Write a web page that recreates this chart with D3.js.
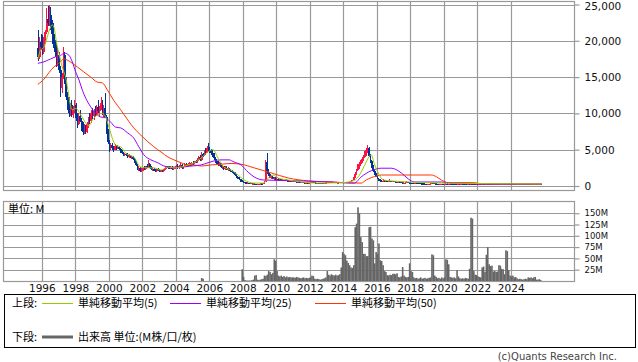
<!DOCTYPE html>
<html><head><meta charset="utf-8">
<script src="https://cdn.jsdelivr.net/npm/d3@7/dist/d3.min.js"></script>
<style>body{margin:0;background:#fff;}svg{display:block;}</style>
</head><body>
<svg id="c" width="638" height="362"></svg>
<script>
// ---------- DATA (monthly candles, first month = Oct 1995) ----------
const startYear = 1995, startMonth = 9;
const open = [
19000,17800,19800,
19200,18500,20000,21200,23000,22500,23500,22000,21000,19500,18500,17000,
18000,16000,13500,15000,18000,14500,12200,11000,10000,11200,9800,10600,
11200,9400,8600,9700,9000,8000,7400,8200,7500,8500,9200,8900,
10000,9600,10300,9800,10900,10300,10600,11500,10200,10700,9500,7500,
6000,5200,5600,5300,5000,5500,5300,5400,5100,4800,4600,4300,
4400,4300,4000,4200,3900,4000,3700,3300,2900,2400,2500,2100,
2300,2500,2300,2700,2600,3000,2600,2300,2400,2100,2000,2300,
2200,2000,2100,2000,2300,2500,2700,2500,2400,2600,2300,2500,
2600,2800,2500,2700,2900,2500,2700,3000,2800,2900,3100,2900,
3200,3100,3400,3300,3700,4000,3600,4400,4200,4800,4600,5200,
5000,4900,4500,4300,3800,3400,3300,3000,3100,2600,2700,2400,
2500,2300,2400,2100,2000,1900,1700,1500,1200,1100,900,700,
600,500,450,400,420,350,380,300,330,250,200,220,
250,300,280,350,600,3300,1900,1600,1200,1300,1000,1100,
900,1000,850,900,750,800,700,850,750,650,700,600,
650,620,600,500,560,540,520,560,480,460,480,430,
450,500,520,490,460,420,440,430,420,410,400,440,
480,520,500,530,560,500,470,490,470,480,500,490,
510,500,520,500,480,560,650,800,1200,1700,2200,2700,
3000,3300,3700,4000,4400,4900,5300,4200,3400,2700,2100,1700,
1300,1000,800,700,650,750,600,700,600,650,700,600,
650,600,550,520,600,500,480,450,460,480,560,480,
450,420,400,380,400,380,360,350,340,330,320,310,
300,310,320,330,380,350,330,320,310,300,310,320,
300,310,340,280,300,320,310,300,290,280,270,290,
280,300,290,280,270,260,270,260,300,270,260,250,
260,250,260,250,260,250,240,280,270,260,270,260,
250,260,250,240,250,260,250,260,250,280,260,250,
260,250,260,250,240,250,260,250,240,250,260,250,
260,250,260,250,240,250,260,250,240,260];
const high = [
21500,20500,21000,
20800,20500,21500,24500,24800,25000,24600,22900,22500,20100,20000,19000,
18500,16500,15500,19100,18500,15000,13000,12300,11500,11800,11000,11800,
11500,10000,10000,10500,9400,8800,8500,8400,8800,9500,10000,10500,
10800,10600,11000,11200,11800,11000,12300,11800,11200,12800,9800,7800,
6300,5900,5900,5500,5800,5700,5600,5500,5200,5000,4700,4600,
4600,4500,4400,4300,4200,4100,3800,3400,3000,2700,2600,2500,
2600,2700,2800,3000,3600,3200,2800,2600,2500,2300,2400,2500,
2300,2200,2200,2400,2600,2800,2800,2700,2800,2700,2600,2700,
2900,3000,2900,3300,3000,2800,3200,3100,3000,3300,3200,3300,
3400,3500,3600,3900,4200,4300,4700,4600,5000,5200,5500,5900,
5400,5100,4900,4500,4000,3700,3500,3300,3200,2900,2800,2700,
2800,2600,2500,2300,2200,2100,1900,1600,1400,1200,1000,800,
700,600,550,500,480,420,420,380,360,300,260,300,
350,350,400,700,3600,4500,2300,1800,1500,1400,1250,1200,
1250,1100,1000,950,900,850,900,900,800,750,750,700,
750,700,650,600,620,580,600,580,520,500,500,480,
520,550,560,520,480,460,470,460,450,440,450,500,
560,580,560,620,600,540,520,520,510,520,540,530,
560,550,560,540,600,700,850,1300,1900,2400,3000,3300,
3600,4000,4300,4800,5200,5650,5400,4400,3600,2900,2200,1800,
1400,1100,900,800,900,800,850,750,700,950,750,700,
700,650,600,650,620,550,520,500,520,650,600,520,
500,450,430,420,450,400,390,380,370,360,350,340,
330,340,360,450,420,380,350,340,330,330,340,340,
330,380,360,320,340,350,330,320,310,300,300,310,
320,330,310,300,290,280,300,420,320,290,280,270,
280,270,280,270,280,270,350,330,300,290,300,280,
270,280,270,260,270,280,270,280,330,300,280,270,
280,270,280,270,260,270,280,270,260,270,280,270,
280,270,280,270,260,270,280,270,280,280];
const low = [
17200,17500,18800,
18000,18200,19500,21000,22000,22000,21500,19500,19000,17800,16400,16500,
15500,12300,12800,14800,14000,11800,10500,9500,9600,9500,9400,10000,
9000,8000,8400,8800,7600,7000,7200,7150,7300,8000,8600,8700,
9200,9100,9500,9600,10000,9500,10400,9800,9500,9300,7200,5800,
4700,4900,5000,4700,4900,5000,5100,4900,4600,4400,4100,4100,
4100,3900,3850,3800,3700,3600,3200,2800,2200,2100,1950,1900,
2100,2200,2200,2500,2500,2500,2200,2100,2000,1900,1950,2100,
1900,1900,1900,1950,2200,2400,2400,2300,2300,2200,2200,2400,
2500,2400,2400,2600,2300,2400,2600,2600,2600,2700,2700,2800,
2900,3000,3100,3200,3500,3400,3500,4000,4100,4300,4500,4800,
4600,4300,4000,3600,3200,3000,2800,2700,2500,2300,2200,2200,
2200,2100,2000,1900,1800,1600,1400,1100,1000,800,600,550,
450,400,350,350,320,300,280,250,220,150,140,180,
200,220,250,330,550,1700,1400,1100,1000,900,800,850,
850,800,750,700,650,650,650,700,600,580,550,550,
580,550,450,470,500,480,500,450,430,420,400,400,
430,460,470,440,400,400,410,400,390,380,390,420,
460,480,460,500,480,440,450,450,440,450,470,460,
480,470,480,460,470,540,620,780,1100,1500,2000,2400,
2800,3100,3400,3800,4100,4600,4000,3200,2500,1900,1500,1200,
900,700,600,550,600,550,580,550,550,600,550,550,
550,500,480,500,480,450,420,420,440,460,450,430,
400,380,360,350,370,340,330,320,310,300,290,280,
280,290,300,320,330,310,300,290,280,280,290,290,
280,290,260,270,290,300,290,280,270,260,260,270,
270,280,270,260,250,250,250,250,260,250,240,240,
240,230,240,240,240,230,230,260,250,250,250,240,
240,240,230,230,240,240,240,240,240,250,240,240,
240,240,240,230,230,240,240,230,230,240,240,240,
240,240,240,230,230,240,240,230,230,240];
const close = [
17800,19800,19200,
18500,20000,21200,23000,22500,23500,22000,21000,19500,18500,17000,18000,
16000,13500,15000,18000,14500,12200,11000,10000,11200,9800,10600,11200,
9400,8600,9700,9000,8000,7400,8200,7500,8500,9200,8900,10000,
9600,10300,9800,10900,10300,10600,11500,10200,10700,9500,7500,6000,
5200,5600,5300,5000,5500,5300,5400,5100,4800,4600,4300,4400,
4300,4000,4200,3900,4000,3700,3300,2900,2400,2500,2100,2300,
2500,2300,2700,2600,3000,2600,2300,2400,2100,2000,2300,2200,
2000,2100,2000,2300,2500,2700,2500,2400,2600,2300,2500,2600,
2800,2500,2700,2900,2500,2700,3000,2800,2900,3100,2900,3200,
3100,3400,3300,3700,4000,3600,4400,4200,4800,4600,5200,5000,
4900,4500,4300,3800,3400,3300,3000,3100,2600,2700,2400,2500,
2300,2400,2100,2000,1900,1700,1500,1200,1100,900,700,600,
500,450,400,420,350,380,300,330,250,200,220,250,
300,280,350,600,3300,1900,1600,1200,1300,1000,1100,900,
1000,850,900,750,800,700,850,750,650,700,600,650,
620,600,500,560,540,520,560,480,460,480,430,450,
500,520,490,460,420,440,430,420,410,400,440,480,
520,500,530,560,500,470,490,470,480,500,490,510,
500,520,500,480,560,650,800,1200,1700,2200,2700,3000,
3300,3700,4000,4400,4900,5300,4200,3400,2700,2100,1700,1300,
1000,800,700,650,750,600,700,600,650,700,600,650,
600,550,520,600,500,480,450,460,480,560,480,450,
420,400,380,400,380,360,350,340,330,320,310,300,
310,320,330,380,350,330,320,310,300,310,320,300,
310,340,280,300,320,310,300,290,280,270,290,280,
300,290,280,270,260,270,260,300,270,260,250,260,
250,260,250,260,250,240,280,270,260,270,260,250,
260,250,240,250,260,250,260,250,280,260,250,260,
250,260,250,240,250,260,250,240,250,260,250,260,
250,260,250,240,250,260,250,240,260,250];

// monthly volume in millions, first month = Jan 2005
const volStartYear = 2005;
const volume = [
0,0,0,0,0,0,6.6,5,0,0,0,0,
0,0,0,0,0,0,0,0,0,0,0,0,
0,0,0,0,0,0,0,0,0,0,0,26,
9,2,1,1,1,1,2,3,12,13,3,2,
3,4,5,12,11,14,22,20,15,18,48,45,
22,12,10,12,9,11,8,10,8,9,8,8,
8,7,9,8,7,6,7,8,6,7,6,7,
8,12,11,5,4,5,4,3,4,5,6,8,
22,14,12,15,13,12,14,12,13,15,30,64,
60,57,45,40,35,30,29,35,119,127,163,150,
97,86,60,60,55,55,119,120,94,90,39,64,
60,83,46,44,35,22,20,13,12,14,13,16,
16,15,17,9,8,10,31,12,9,8,9,39,
22,20,8,6,7,5,6,8,5,6,7,5,
6,7,8,59,57,12,9,6,7,5,8,6,
8,48,47,37,9,8,7,8,6,24,10,6,
5,6,5,7,6,5,27,140,138,22,14,13,
10,9,8,30,32,20,58,75,37,33,34,21,
22,20,21,35,34,27,26,15,68,66,24,12,
10,12,8,9,6,4,5,4,3,4,5,4,
8,7,8,6,8,9,3,3,4,2];

// moving averages: [decimal year, value]
const ma5 = [[1995.76,17500],[1995.92,18700],[1996.12,19100],[1996.32,20500],[1996.52,21900],[1996.62,22200],[1996.72,21900],[1996.88,19700],[1997.02,18300],[1997.22,16400],[1997.32,15700],[1997.42,15000],[1997.56,13200],[1997.68,11400],[1997.82,10500],[1998.02,10700],[1998.32,9800],[1998.62,8700],[1998.81,8300],[1999.02,9100],[1999.32,9800],[1999.62,10000],[1999.81,9500],[2000.01,8100],[2000.22,6500],[2000.41,5600],[2000.71,5400],[2001.01,4500],[2001.49,4000],[2001.91,2600],[2002.33,2500],[2002.69,2500],[2003.11,2200],[2003.53,2600],[2003.89,2500],[2004.31,2600],[2004.73,2900],[2005.09,3200],[2005.51,3850],[2005.92,4700],[2006.22,5000],[2006.52,3850],[2006.87,2600],[2007.30,2200],[2007.72,1500],[2008.08,830],[2008.68,400],[2009.22,400],[2009.52,1100],[2009.82,1500],[2010.12,1100],[2010.72,830],[2011.50,550],[2012.70,400],[2013.87,450],[2014.59,700],[2014.89,1250],[2015.19,2450],[2015.49,3850],[2015.67,4300],[2015.85,3100],[2016.09,1800],[2016.39,830],[2016.87,700],[2017.89,550],[2020.04,400],[2025.85,270]];
const ma25 = [[1995.76,16900],[1996.12,17100],[1996.52,17500],[1996.82,17800],[1997.12,18000],[1997.36,18300],[1997.62,18000],[1997.82,17100],[1998.02,15700],[1998.22,14600],[1998.42,13200],[1998.62,12100],[1998.92,10900],[1999.22,10000],[1999.52,9500],[1999.81,9400],[2000.11,8800],[2000.41,8100],[2000.71,8000],[2001.13,7300],[2001.49,6600],[2001.79,5400],[2002.09,4300],[2002.51,3600],[2002.93,3200],[2003.29,2750],[2003.71,2600],[2004.31,2600],[2004.91,2750],[2005.51,2900],[2005.92,3200],[2006.28,3450],[2006.70,3600],[2007.18,3600],[2007.48,3300],[2007.90,2900],[2008.32,1900],[2008.68,1250],[2009.22,830],[2011.49,700],[2013.29,550],[2014.49,400],[2014.66,400],[2015.07,1250],[2015.67,2100],[2016.27,2450],[2016.87,2450],[2017.47,1800],[2017.89,960],[2018.25,550],[2019.87,550],[2020.47,400],[2021.30,380],[2022.00,280],[2025.86,270]];
const ma50 = [[1995.76,14000],[1996.12,14700],[1996.42,15600],[1996.72,16400],[1997.02,16900],[1997.32,17500],[1997.52,17350],[1997.82,16900],[1998.12,16400],[1998.51,15700],[1998.92,15000],[1999.32,14300],[1999.62,14200],[1999.92,13200],[2000.29,11800],[2000.71,10500],[2001.13,9100],[2001.49,8000],[2001.91,7000],[2002.33,6100],[2002.69,5400],[2003.11,4700],[2003.53,4000],[2003.89,3600],[2004.31,3200],[2004.73,2900],[2005.08,2900],[2005.51,2750],[2006.10,2900],[2006.70,3000],[2007.30,3100],[2007.90,3000],[2008.68,2500],[2009.70,1800],[2010.72,1100],[2011.92,700],[2013.29,550],[2014.19,450],[2015.07,400],[2015.37,830],[2015.67,1150],[2016.07,1420],[2016.27,1515],[2019.26,1515],[2019.56,1280],[2019.86,830],[2020.16,500],[2020.28,460],[2021.85,460],[2022.27,270],[2025.86,270]];

const yearTicks = [1996,1998,2000,2002,2004,2006,2008,2010,2012,2014,2016,2018,2020,2022,2024];
const priceTicks = [0,5000,10000,15000,20000,25000];
const volTicks = [25,50,75,100,125,150];
const legendTop = [{label:"単純移動平均(5)", color:"#99cc00"},{label:"単純移動平均(25)", color:"#9900ff"},{label:"単純移動平均(50)", color:"#ff3300"}];

// ---------- DRAW ----------
const svg = d3.select("#c");
const L = 3.5, R = 574.5, pTop = 1.5, pBot = 190.5, vTop = 201.5, vBot = 281.5;
const grid = "#999999";
const x = d3.scaleLinear().domain([1993.71, 2027.81]).range([L, R]);
const y = d3.scaleLinear().domain([0, 25000]).range([186, 4.5]);
const yv = d3.scaleLinear().domain([0, 175]).range([281, 201.9]);
const FONT = "DejaVu Sans, sans-serif";
const JFONT = "'Noto Sans CJK JP', sans-serif";

// gridlines
function vgrid(top, bot){
  svg.append("g").selectAll("line").data(yearTicks).join("line")
    .attr("x1", d=>Math.round(x(d))+0.5).attr("x2", d=>Math.round(x(d))+0.5)
    .attr("y1", top).attr("y2", bot).attr("stroke", grid).attr("stroke-width",1.2);
}
vgrid(pTop, pBot); vgrid(vTop, vBot);
svg.append("g").selectAll("line").data(priceTicks).join("line")
  .attr("x1", L).attr("x2", R).attr("y1", d=>Math.round(y(d))+0.5).attr("y2", d=>Math.round(y(d))+0.5)
  .attr("stroke", grid).attr("stroke-width",1.2);
svg.append("g").selectAll("line").data(volTicks).join("line")
  .attr("x1", L).attr("x2", R).attr("y1", d=>Math.round(yv(d))+0.5).attr("y2", d=>Math.round(yv(d))+0.5)
  .attr("stroke", grid).attr("stroke-width",1.2);
svg.append("rect").attr("x",L).attr("y",pTop).attr("width",R-L).attr("height",pBot-pTop).attr("fill","none").attr("stroke",grid).attr("stroke-width",1.2);
svg.append("rect").attr("x",L).attr("y",vTop).attr("width",R-L).attr("height",vBot-vTop).attr("fill","none").attr("stroke",grid).attr("stroke-width",1.2);

// volume bars
const vdat = volume.map((v,i)=>({t: volStartYear + i/12, v}));
const mw = x(1/12) - x(0);
svg.append("g").selectAll("rect").data(vdat.filter(d=>d.v>0)).join("rect")
  .attr("x", d=>x(d.t)).attr("width", mw+0.2)
  .attr("y", d=>yv(d.v)).attr("height", d=>yv(0)-yv(d.v))
  .attr("fill","#666666");

// candles
const cdat = close.map((c,i)=>({t: startYear + (startMonth+i)/12 + 0.5/12, o: open[i], h: high[i], l: low[i], c}));
const cg = svg.append("g").attr("shape-rendering","crispEdges");
cg.selectAll("line").data(cdat).join("line")
  .attr("x1", d=>x(d.t)).attr("x2", d=>x(d.t))
  .attr("y1", d=>y(d.h)).attr("y2", d=>y(d.l))
  .attr("stroke", d=>d.c>=d.o?"#ff1144":"#003399").attr("stroke-width",1);
cg.selectAll("rect").data(cdat).join("rect")
  .attr("x", d=>x(d.t)-0.9).attr("width",1.8)
  .attr("y", d=>y(Math.max(d.o,d.c))).attr("height", d=>Math.max(1, Math.abs(y(d.o)-y(d.c))))
  .attr("fill", d=>d.c>=d.o?"#ff1144":"#003399");

// moving averages
const line = d3.line().x(d=>x(d[0])).y(d=>y(d[1])).curve(d3.curveMonotoneX);
[[ma50,"#ff3300"],[ma25,"#9900ff"],[ma5,"#99cc00"]].forEach(([data,col])=>{
  svg.append("path").datum(data).attr("d",line).attr("fill","none").attr("stroke",col).attr("stroke-width",1);
});

// axes
const ay = svg.append("g").attr("transform",`translate(${R},0)`)
  .call(d3.axisRight(y).tickValues(priceTicks).tickSize(5).tickPadding(5).tickFormat(d3.format(",")));
const av = svg.append("g").attr("transform",`translate(${R},0)`)
  .call(d3.axisRight(yv).tickValues(volTicks).tickSize(5).tickPadding(5).tickFormat(d=>d+"M"));
const ax = svg.append("g").attr("transform",`translate(0,${vBot})`)
  .call(d3.axisBottom(x).tickValues(yearTicks).tickSize(0).tickPadding(3).tickFormat(d3.format("d")));
[ay,av,ax].forEach(g=>{ g.select(".domain").remove(); g.selectAll(".tick line").attr("stroke",grid).attr("stroke-width",1.2);
  g.selectAll("text").attr("fill","#111").attr("font-family",FONT); });
ay.selectAll("text").attr("font-size",10.5).attr("dy", d=>d===25000?"0.45em":"0.32em");
av.selectAll("text").attr("font-size",8.5);
ax.selectAll("text").attr("font-size",10.5);

svg.append("text").attr("x",8).attr("y",213).attr("font-family",JFONT).attr("font-size",11).attr("fill","#000").text("単位: M");

// legend
svg.append("rect").attr("x",4.5).attr("y",294.5).attr("width",631).attr("height",53).attr("fill","none").attr("stroke","#000");
svg.append("text").attr("x",12).attr("y",307).attr("font-family",JFONT).attr("font-size",11).text("上段:");
const lx = [42,170,315];
legendTop.forEach((d,i)=>{
  svg.append("line").attr("x1",lx[i]).attr("x2",lx[i]+31).attr("y1",303.5).attr("y2",303.5).attr("stroke",d.color).attr("stroke-width",1);
  svg.append("text").attr("x",lx[i]+36).attr("y",307).attr("font-family",JFONT).attr("font-size",11).text(d.label);
});
svg.append("text").attr("x",12).attr("y",341).attr("font-family",JFONT).attr("font-size",11).text("下段:");
svg.append("line").attr("x1",42).attr("x2",73).attr("y1",337).attr("y2",337).attr("stroke","#666").attr("stroke-width",3);
svg.append("text").attr("x",78).attr("y",341).attr("font-family",JFONT).attr("font-size",11).text("出来高 単位:(M株/口/枚)");
svg.append("text").attr("x",617).attr("y",360).attr("text-anchor","end").attr("font-family",FONT).attr("font-size",10).attr("fill","#444").text("(c)Quants Research Inc.");
</script>
</body></html>
